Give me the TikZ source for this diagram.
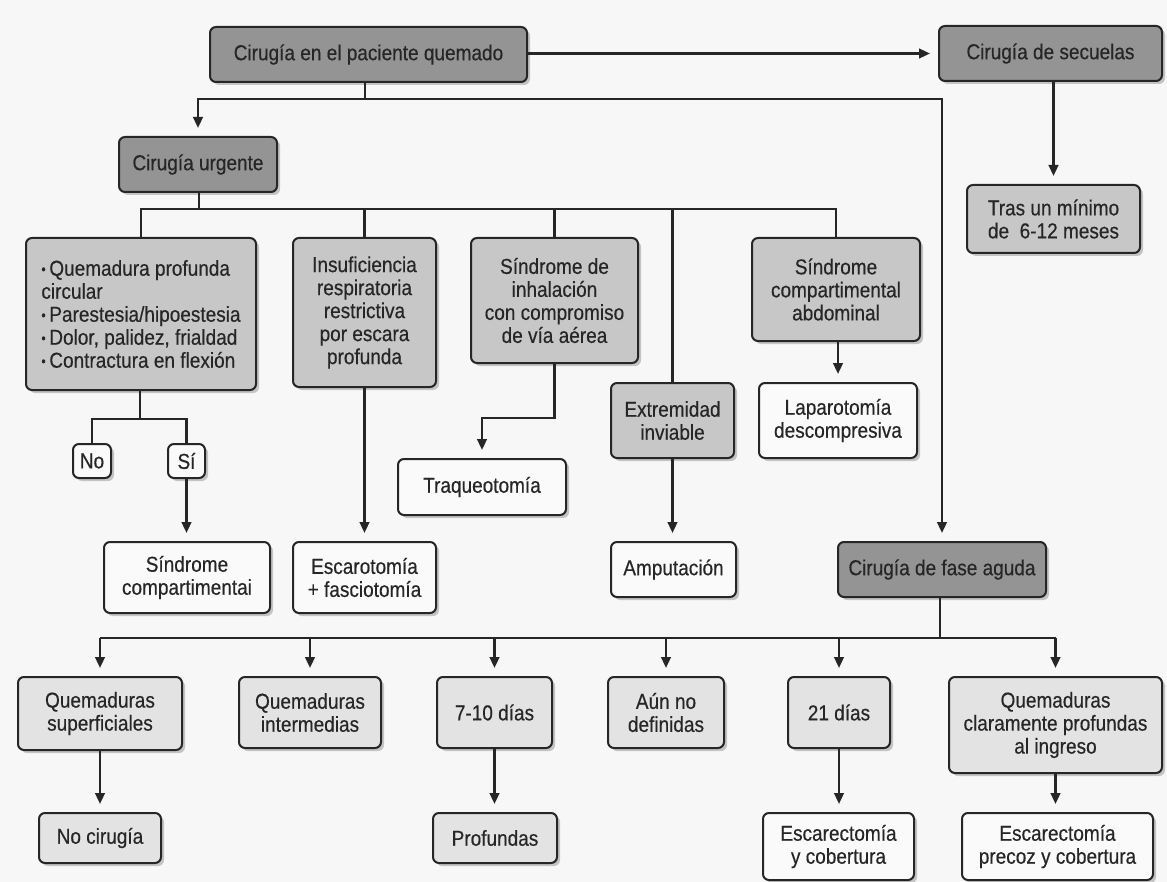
\documentclass[tikz,border=0pt]{standalone}
\usepackage{fontspec}
\setmainfont[FakeStretch=0.88, FakeBold=0.4]{Liberation Sans}
\usepackage{tikz}
\usetikzlibrary{arrows.meta, shadows}
\newcommand{\punto}{\raisebox{.15ex}{\scriptsize\textbullet}\,}
\tikzstyle{base2} = [rectangle, rounded corners=3pt, draw=black!85, line width=1pt, align=center, inner sep=0pt, text=black!85, font=\fontsize{10.8}{11.5}\selectfont, drop shadow={shadow xshift=1.5pt, shadow yshift=-1.5pt, fill=black!60, opacity=0.35}]
\tikzstyle{head2} = [base2, fill=black!42]
\tikzstyle{cond2} = [base2, fill=black!22]
\tikzstyle{bottom2} = [base2, fill=black!11]
\tikzstyle{result2} = [base2, fill=black!2]
\tikzstyle{arrow2} = [line width=1.2pt, draw=black!85, -{Triangle[length=5.5pt,width=4.8pt]}, shorten >=4pt]
\tikzstyle{line2} = [line width=1.2pt, draw=black!85]

\begin{document}
\begin{tikzpicture}[x=0.5pt, y=-0.5pt]
            \useasboundingbox (0,0) rectangle (1167,882);
            \fill [black!3] (0,0) rectangle (1167,882);

            % Nodes
            \node (titulo) [head2, minimum width=158.5pt, minimum height=27.5pt] at (368.5,54.5) {Cirugía en el paciente quemado};
            \node (secuelas) [head2, minimum width=111.5pt, minimum height=27.5pt] at (1050.5,53.5) {Cirugía de secuelas};
            \node (urgente) [head2, minimum width=79pt, minimum height=27.5pt] at (198,164.5) {Cirugía urgente};
            \node (tras) [cond2, minimum width=86.5pt, minimum height=34pt] at (1053.5,219) {Tras un mínimo\\de\ \ 6-12 meses};

            \node (signos) [cond2, minimum width=115pt, minimum height=76pt, align=left] at (141,314) {\punto Quemadura profunda\\circular\\\punto Parestesia/hipoestesia\\\punto Dolor, palidez, frialdad\\\punto Contractura en flexión};
            \node (insuf) [cond2, minimum width=71.5pt, minimum height=74.5pt] at (364.5,312.5) {Insuficiencia\\respiratoria\\restrictiva\\por escara\\profunda};
            \node (inhal) [cond2, minimum width=83.5pt, minimum height=62.5pt] at (554.5,300.5) {Síndrome de\\inhalación\\con compromiso\\de vía aérea};
            \node (abdom) [cond2, minimum width=84pt, minimum height=51.5pt] at (836,289.5) {Síndrome\\compartimental\\abdominal};
            \node (extrem) [cond2, minimum width=61.5pt, minimum height=37.5pt] at (672.5,420.5) {Extremidad\\inviable};
            \node (lapar) [result2, minimum width=79pt, minimum height=37.5pt] at (838,420.5) {Laparotomía\\descompresiva};

            \node (no) [result2, minimum width=19pt, minimum height=17pt] at (92,461) {No};
            \node (si) [result2, minimum width=18.5pt, minimum height=17pt] at (186.5,461) {Sí};
            \node (traq) [result2, minimum width=84pt, minimum height=28pt] at (482,487) {Traqueotomía};
            \node (sindcomp) [result2, minimum width=83pt, minimum height=35.5pt] at (187,577.5) {Síndrome\\compartimentai};
            \node (escarot) [result2, minimum width=71.5pt, minimum height=35.5pt] at (364.5,577.5) {Escarotomía\\+ fasciotomía};
            \node (amput) [result2, minimum width=62.5pt, minimum height=27.5pt] at (673.5,569.5) {Amputación};
            \node (aguda) [head2, minimum width=104pt, minimum height=27.5pt] at (942,569.5) {Cirugía de fase aguda};

            \node (qsup) [bottom2, minimum width=82pt, minimum height=36.5pt] at (100,713.5) {Quemaduras\\superficiales};
            \node (qint) [bottom2, minimum width=71pt, minimum height=35.5pt] at (310,712.5) {Quemaduras\\intermedias};
            \node (d710) [bottom2, minimum width=57.5pt, minimum height=35.5pt] at (494.5,712.5) {7-10 días};
            \node (aun) [bottom2, minimum width=58pt, minimum height=35.5pt] at (666,712.5) {Aún no\\definidas};
            \node (d21) [bottom2, minimum width=51pt, minimum height=35.5pt] at (839,712.5) {21 días};
            \node (qclar) [bottom2, minimum width=106.5pt, minimum height=48pt] at (1055.5,725) {Quemaduras\\claramente profundas\\al ingreso};

            \node (nocir) [bottom2, minimum width=61pt, minimum height=25pt] at (100,838) {No cirugía};
            \node (prof) [bottom2, minimum width=62pt, minimum height=25pt] at (495,838) {Profundas};
            \node (escar21) [result2, minimum width=75.5pt, minimum height=33.5pt] at (838.5,846.5) {Escarectomía\\y cobertura};
            \node (escarprec) [result2, minimum width=95.5pt, minimum height=33.5pt] at (1057.5,846.5) {Escarectomía\\precoz y cobertura};

            % Junctions
            \coordinate (j1) at (365,99);
            \coordinate (j2) at (199,209);
            \coordinate (j3) at (140,419);
            \coordinate (j4) at (940,638);

            % Edges
            \draw [arrow2] (titulo.east |- secuelas.west) -- (secuelas.west);
            \draw [line2] (titulo.south -| j1) -- (j1);
            \draw [arrow2] (j1) -| (urgente.north);
            \draw [arrow2] (j1) -| (aguda.north);
            \draw [arrow2] (secuelas.south -| tras.north) -- (tras.north);

            \draw [line2] (urgente.south -| j2) -- (j2);
            \draw [line2] (signos.north) |- (j2) -| (abdom.north);
            \draw [line2] (insuf.north) -- (insuf.north |- j2);
            \draw [line2] (inhal.north) -- (inhal.north |- j2);
            \draw [line2] (extrem.north) -- (extrem.north |- j2);

            \draw [line2] (signos.south -| j3) -- (j3);
            \draw [line2] (no.north) |- (j3) -| (si.north);
            \draw [arrow2] (si.south) -- (si.south |- sindcomp.north);
            \draw [arrow2] (insuf) -- (escarot);
            \draw [arrow2] (inhal.south) -- ++(0,54) -| (traq.north);
            \draw [arrow2] (extrem.south) -- (extrem.south |- amput.north);
            \draw [arrow2] (abdom.south -| lapar.north) -- (lapar.north);

            \draw [line2] (aguda.south -| j4) -- (j4);
            \draw [line2] (qsup.north |- j4) -- (qclar.north |- j4);
            \foreach \n in {qsup, qint, d710, aun, d21, qclar}
                \draw [arrow2] (\n.north |- j4) -- (\n.north);

            \draw [arrow2] (qsup) -- (nocir);
            \draw [arrow2] (d710.south) -- (d710.south |- prof.north);
            \draw [arrow2] (d21.south) -- (d21.south |- escar21.north);
            \draw [arrow2] (qclar.south) -- (qclar.south |- escarprec.north);
        \end{tikzpicture}
\end{document}
